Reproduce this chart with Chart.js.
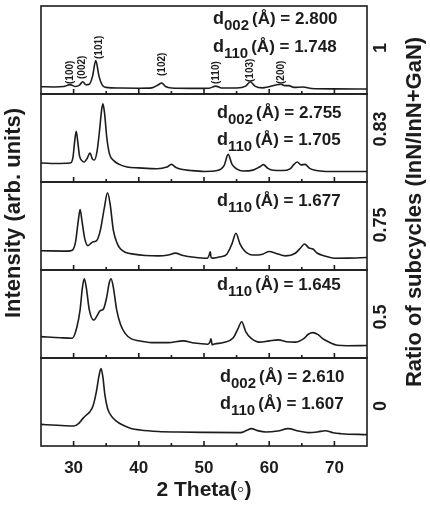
<!DOCTYPE html>
<html lang="en">
  <head>
    <meta charset="UTF-8" />
    <title>XRD patterns vs subcycle ratio</title>
    <script src="https://cdn.jsdelivr.net/npm/chart.js"></script>
    <style>
      html, body { margin: 0; padding: 0; background: #fff; }
      canvas { display: block; }
    </style>
  </head>
  <body>
    <canvas id="xrd" width="430" height="506"></canvas>
    <script>
      // tick labels and panel labels
      const xTicks = [30, 40, 50, 60, 70];
      const xMinor = [35, 45, 55, 65];
      const ratios = ["1", "0.83", "0.75", "0.5", "0"];

      // ratio = 1
      const theta1 = [25, 27, 28.5, 29.45, 30.3, 30.9, 31.4, 31.9, 32.4, 32.9, 33.4, 33.9, 34.4, 35, 37, 40, 42, 43, 43.5, 44.1, 45, 48, 50.8, 51.8, 52.7, 55, 56.4, 57.1, 57.8, 59, 61.8, 62.4, 63, 63.8, 65.2, 66.5, 70, 75];
      const int1 = [8.3, 8, 8.5, 10.6, 8.5, 10, 14, 10.5, 11, 20, 38, 20, 10, 7.5, 6.8, 6.6, 7, 10.5, 12.5, 8.5, 6.8, 6.4, 6.6, 9, 6.8, 6.8, 9, 14, 9, 7, 11, 9.5, 9.5, 7.5, 8, 6.2, 5.8, 5.6];

      // ratio = 0.83
      const theta2 = [25, 28, 29.5, 29.9, 30.15, 30.4, 30.65, 30.9, 31.3, 31.6, 32.1, 32.5, 32.9, 33.2, 33.6, 34.0, 34.3, 34.5, 34.75, 35.1, 35.5, 36.2, 37, 38.2, 40, 42.8, 44.3, 45, 45.7, 46.5, 48, 50, 52, 53.1, 53.7, 54.3, 55, 56, 57.5, 58.5, 59.1, 59.8, 60.6, 62, 63.2, 63.8, 64.3, 64.9, 65.5, 66.2, 67, 68.7, 70, 75];
      const int2 = [21.6, 21, 21.5, 28, 45, 57.6, 45, 30, 24, 22.7, 27, 33, 26, 25, 35, 60, 82, 89, 78, 50, 32, 24, 20, 17, 16, 15, 17, 20, 16.5, 14.4, 13, 12, 13, 19, 31.4, 20, 15, 12.5, 13.5, 17, 19.7, 15.5, 13.3, 13, 15, 20, 22.7, 19.5, 20, 15.5, 13.3, 12, 12, 12];

      // ratio = 0.75
      const theta3 = [25, 29, 29.8, 30.3, 30.7, 31.0, 31.3, 31.7, 32.2, 32.6, 33.0, 33.5, 34.1, 34.7, 35.2, 35.6, 36.1, 36.7, 37.2, 38, 39.2, 41, 43, 44.5, 45.6, 46.8, 48.5, 50.5, 50.8, 50.95, 51.1, 51.35, 52.5, 53.5, 54.3, 54.9, 55.5, 56.2, 57.5, 59, 60.0, 61, 62.5, 64, 64.8, 65.4, 66.1, 66.7, 67.4, 68.5, 70, 72, 75];
      const int3 = [21.8, 21.5, 22.5, 32, 55, 68.6, 55, 36, 27.6, 30, 32, 33, 45, 70, 87.7, 75, 45, 30, 23.8, 20, 18, 16.5, 16, 17, 19.2, 16.5, 14.5, 13.4, 17, 20.7, 14, 13.5, 15, 18, 30, 41.8, 30, 21.8, 17, 18, 21, 19, 16, 19, 25, 29.5, 25, 23.8, 19, 16, 13.4, 13.5, 14.2];

      // ratio = 0.5
      const theta4 = [25, 28, 29.8, 30.5, 31.0, 31.35, 31.64, 31.95, 32.4, 33.1, 33.6, 34.05, 34.6, 35.1, 35.45, 35.74, 36.1, 36.6, 37.2, 37.9, 38.8, 40, 42, 44.5, 46.8, 48.5, 50.6, 50.9, 51.07, 51.25, 51.6, 53, 54.5, 55.2, 55.78, 56.4, 57.2, 58.5, 60, 61.4, 62.6, 64, 65.3, 66.0, 66.67, 67.5, 68.2, 69, 70.5, 72, 75];
      const int4 = [24.3, 23, 22.5, 35, 55, 80, 90, 80, 55, 43, 48, 53.5, 56, 70, 85, 90, 80, 55, 38, 28, 22, 19.5, 17.5, 17.5, 19.5, 17, 15.7, 18, 21.7, 15, 16, 17.5, 23, 33, 41.2, 30, 22.5, 18, 19.5, 20.6, 18.5, 18, 22, 27, 28.8, 26.5, 22, 18.7, 14.5, 14, 14.2];

      // ratio = 0
      const theta5 = [25, 27.5, 30, 30.8, 31.5, 32.0, 32.5, 33.0, 33.5, 33.9, 34.2, 34.5, 34.8, 35.2, 35.8, 36.6, 37.6, 38.8, 40.2, 43, 46, 50, 55.6, 56.5, 57.3, 58.2, 59.5, 61.3, 62.9, 64.5, 66, 67.4, 68.6, 69.8, 71, 75];
      const int5 = [24.6, 23.5, 22.7, 25.8, 32, 35.5, 39, 46, 62, 80, 88, 78, 58, 43, 34, 28, 23.5, 20, 18.2, 16.5, 15.9, 15.5, 15.2, 17.5, 19.7, 17.5, 15.9, 17, 19.7, 17, 15.2, 16, 17.4, 15, 14, 12.9];

      // d-spacing notes per panel: [subscript, value]
      const dNotes = [
        [["002", "2.800"], ["110", "1.748"]],
        [["002", "2.755"], ["110", "1.705"]],
        [["110", "1.677"]],
        [["110", "1.645"]],
        [["002", "2.610"], ["110", "1.607"]],
      ];
      // Miller indices on the top pattern: [label, 2theta]
      const hkl = [["(100)", 29.45], ["(002)", 31.4], ["(101)", 33.9], ["(102)", 43.6], ["(110)", 51.85], ["(103)", 57.1], ["(200)", 61.8]];

      const FAM = 'Arial, "Liberation Sans", Helvetica, sans-serif';
      const INK = "#1c1c1c";

      const thetas = [theta1, theta2, theta3, theta4, theta5];
      const ints = [int1, int2, int3, int4, int5];

      // layout tweaks (pixels)
      const noteX = [213, 217, 217, 217, 220];
      const noteY = [[18, 46], [24, 51], [24], [20], [24, 51]];
      const hklBottom = [84, 79, 59, 76, 84, 82, 84];
      const ratioShift = [-2, -9, -1, 3, 4];

      const panelIds = ["p1", "p2", "p3", "p4", "p5"];
      // stacked left axes are placed last-defined on top, so add them bottom-up
      const yScales = {};
      panelIds.slice().reverse().forEach((id) => {
        yScales[id] = {
          type: "linear",
          position: "left",
          stack: "xrd",
          stackWeight: 1,
          min: 0,
          max: 100,
          grid: { display: false },
          border: { display: false },
          ticks: { display: false },
          afterFit: (s) => { s.width = 0; },
        };
      });

      const framePlugin = {
        id: "frames",
        afterDatasetsDraw(chart) {
          const ctx = chart.ctx;
          const area = chart.chartArea;
          const x = chart.scales.x;
          ctx.save();
          ctx.strokeStyle = INK;
          ctx.lineWidth = 1.6;
          panelIds.forEach((id) => {
            const s = chart.scales[id];
            ctx.strokeRect(area.left, s.top, area.right - area.left, s.bottom - s.top);
            ctx.beginPath();
            xTicks.forEach((v) => {
              const px = x.getPixelForValue(v);
              ctx.moveTo(px, s.bottom);
              ctx.lineTo(px, s.bottom - 5);
            });
            xMinor.forEach((v) => {
              const px = x.getPixelForValue(v);
              ctx.moveTo(px, s.bottom);
              ctx.lineTo(px, s.bottom - 3);
            });
            ctx.stroke();
          });
          ctx.restore();
        },
        afterDraw(chart) {
          const ctx = chart.ctx;
          const x = chart.scales.x;
          ctx.save();
          ctx.fillStyle = INK;
          ctx.textBaseline = "alphabetic";
          ctx.textAlign = "left";

          // d-spacing notes
          panelIds.forEach((id, i) => {
            const s = chart.scales[id];
            dNotes[i].forEach((n, j) => {
              let px = noteX[i];
              const py = s.top + noteY[i][j];
              ctx.font = "bold 18px " + FAM;
              ctx.fillText("d", px, py);
              px += ctx.measureText("d").width;
              ctx.font = "bold 15px " + FAM;
              ctx.fillText(n[0], px, py + 6);
              px += ctx.measureText(n[0]).width + 3;
              ctx.font = "bold 17px " + FAM;
              ctx.fillText("(\u00C5) = " + n[1], px, py);
            });
          });

          // Miller indices, rotated
          ctx.font = "bold 10px " + FAM;
          ctx.textBaseline = "middle";
          hkl.forEach((h, i) => {
            ctx.save();
            ctx.translate(x.getPixelForValue(h[1]), hklBottom[i]);
            ctx.rotate(-Math.PI / 2);
            ctx.fillText(h[0], 0, 0);
            ctx.restore();
          });

          // ratio labels on the right
          ctx.textAlign = "center";
          ctx.font = "bold 18px " + FAM;
          panelIds.forEach((id, i) => {
            const s = chart.scales[id];
            ctx.save();
            ctx.translate(381, (s.top + s.bottom) / 2 + ratioShift[i]);
            ctx.rotate(-Math.PI / 2);
            ctx.fillText(ratios[i], 0, 0);
            ctx.restore();
          });

          // axis titles
          ctx.font = "bold 22px " + FAM;
          ctx.save();
          ctx.translate(14, 213);
          ctx.rotate(-Math.PI / 2);
          ctx.fillText("Intensity (arb. units)", 0, 0);
          ctx.restore();
          ctx.save();
          ctx.translate(415, 212);
          ctx.rotate(-Math.PI / 2);
          ctx.fillText("Ratio of subcycles (InN/InN+GaN)", 0, 0);
          ctx.restore();
          ctx.restore();
        },
      };

      const datasets = panelIds.map((id, i) => ({
        label: "ratio " + ratios[i],
        yAxisID: id,
        data: thetas[i].map((t, k) => ({ x: t, y: ints[i][k] })),
        borderColor: INK,
        borderWidth: 1.6,
        pointRadius: 0,
        cubicInterpolationMode: "monotone",
        fill: false,
      }));

      new Chart(document.getElementById("xrd").getContext("2d"), {
        type: "line",
        data: { datasets: datasets },
        options: {
          responsive: false,
          animation: false,
          devicePixelRatio: 1,
          layout: { padding: { left: 41, right: 63, top: 6, bottom: 0 } },
          plugins: { legend: { display: false }, tooltip: { enabled: false } },
          scales: Object.assign(
            {
              x: {
                type: "linear",
                min: 25,
                max: 75,
                grid: { display: false },
                border: { display: false },
                afterBuildTicks: (s) => { s.ticks = xTicks.map((v) => ({ value: v })); },
                afterFit: (s) => { s.height = 60; },
                ticks: { color: INK, padding: 4, font: { family: FAM, size: 17, weight: "bold" } },
                title: {
                  display: true,
                  text: "2 Theta(\u25E6)",
                  color: INK,
                  padding: { top: 0, bottom: 3 },
                  font: { family: FAM, size: 21, weight: "bold" },
                },
              },
            },
            yScales
          ),
        },
        plugins: [framePlugin],
      });
    </script>
  </body>
</html>
